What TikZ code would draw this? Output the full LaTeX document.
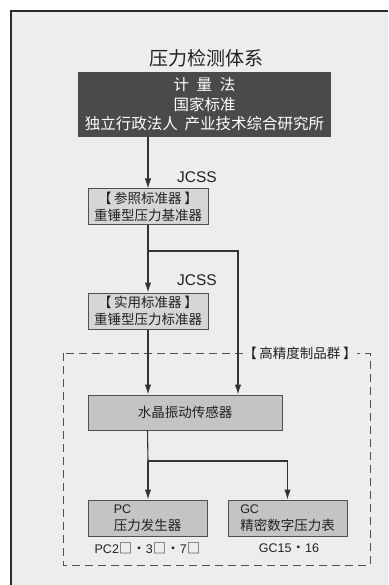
\documentclass[tikz,border=0pt]{standalone}
\usepackage{fontspec}
\setmainfont{Liberation Sans}
\newfontfamily\cjk{Noto Sans CJK SC}
\usetikzlibrary{arrows.meta}
\definecolor{bg}{HTML}{ECEDEF}
\definecolor{framec}{HTML}{2A2A2A}
\definecolor{darkfill}{HTML}{4A4A4C}
\definecolor{lightfill}{HTML}{D6D6D6}
\definecolor{midfill}{HTML}{C4C4C4}
\definecolor{boxline}{HTML}{505050}
\definecolor{linec}{HTML}{333333}
\definecolor{txt}{HTML}{222222}
\newcommand{\bsp}{\hspace{0.2em}}
\tikzset{
  conn/.style={draw=linec, line width=1.1pt},
  arr/.style={conn, -{Latex[length=10pt,width=6.5pt]}},
  basebox/.style={draw=boxline, line width=1pt, inner sep=0pt, align=center, text=txt,
    font=\cjk\fontsize{13.5}{17}\selectfont},
  lightbox/.style={basebox, fill=lightfill, minimum width=120pt, minimum height=35pt},
  graybox/.style={basebox, fill=midfill, minimum height=36pt},
  jcss/.style={font=\fontsize{15.5}{18}\selectfont, text=txt, inner sep=0pt},
  sublabel/.style={font=\fontsize{12.5}{15}\selectfont, text=txt, inner sep=0pt},
}
\begin{document}
\begin{tikzpicture}[x=1pt,y=-1pt]
\useasboundingbox (0,0) rectangle (388,585);
\fill[white] (0,0) rectangle (388,585);
\fill[bg] (11,11) rectangle (388,585);
\draw[framec, line width=2.5pt] (11,585) -- (11,11) -- (388,11);

% title
\node[font=\cjk\fontsize{19}{22}\selectfont, text=txt, inner sep=0pt] (title) at (206,58) {压力检测体系};

% top dark box
\node[fill=darkfill, minimum width=253pt, minimum height=65pt, inner sep=0pt, align=center,
  text=white, font=\cjk\fontsize{15.5}{19.5}\selectfont] (top) at (204.5,104.5)
  {计\hspace{0.5em}量\hspace{0.5em}法\\国家标准\\独立行政法人\hspace{0.45em}产业技术综合研究所};

% boxes
\node[lightbox] (ref) at (148,206.5) {【\bsp 参照标准器\bsp 】\\重锤型压力基准器};
\node[lightbox, minimum height=36pt] (work) at (148,311) {【\bsp 实用标准器\bsp 】\\重锤型压力标准器};
\node[graybox, minimum width=194pt, minimum height=35pt] (sensor) at (185,412.5) {水晶振动传感器};
\node[graybox, minimum width=119pt, align=left] (pc) at (147.5,518)
  {{\rmfamily\fontsize{12.5}{17}\selectfont PC}\\压力发生器};
\node[graybox, minimum width=119pt, align=left] (gc) at (287.5,518)
  {{\rmfamily\fontsize{12.5}{17}\selectfont GC}\\精密数字压力表};

% labels
\node[jcss] (j1) at (197,177) {JCSS};
\node[jcss] (j2) at (197,280) {JCSS};
\node[sublabel] (pcl) at (147.5,548) {PC2{\cjk\fontsize{13.5}{15}\selectfont □・}3{\cjk\fontsize{13.5}{15}\selectfont □・}7{\cjk\fontsize{13.5}{15}\selectfont □}};
\node[sublabel] (gcl) at (289,548) {GC15{\cjk\fontsize{13.5}{15}\selectfont ・}16};

% dashed group
\draw[boxline, line width=1pt, dash pattern=on 8pt off 5pt] (63,353) rectangle (370,565);
\node[fill=bg, inner sep=0pt, text=txt, font=\cjk\fontsize{13.5}{16}\selectfont] (grp) at (300,353) {【\bsp 高精度制品群\bsp 】};

% connectors
\coordinate (br1) at (148,251);
\coordinate (s2) at (238,0);
\coordinate (br2) at (148,461);
\draw[arr] (ref.north |- top.south) -- (ref.north);
\draw[conn] (ref.south) -- (br1);
\draw[arr] (br1) -- (work.north);
\draw[arr] (br1) -| (s2 |- sensor.north);
\draw[arr] (work.south) -- (work.south |- sensor.north);
\draw[conn] (sensor.south -| pc.north) -- (br2);
\draw[arr] (br2) -- (br2 |- pc.north);
\draw[arr] (br2) -| (gc.north);
\end{tikzpicture}
\end{document}
